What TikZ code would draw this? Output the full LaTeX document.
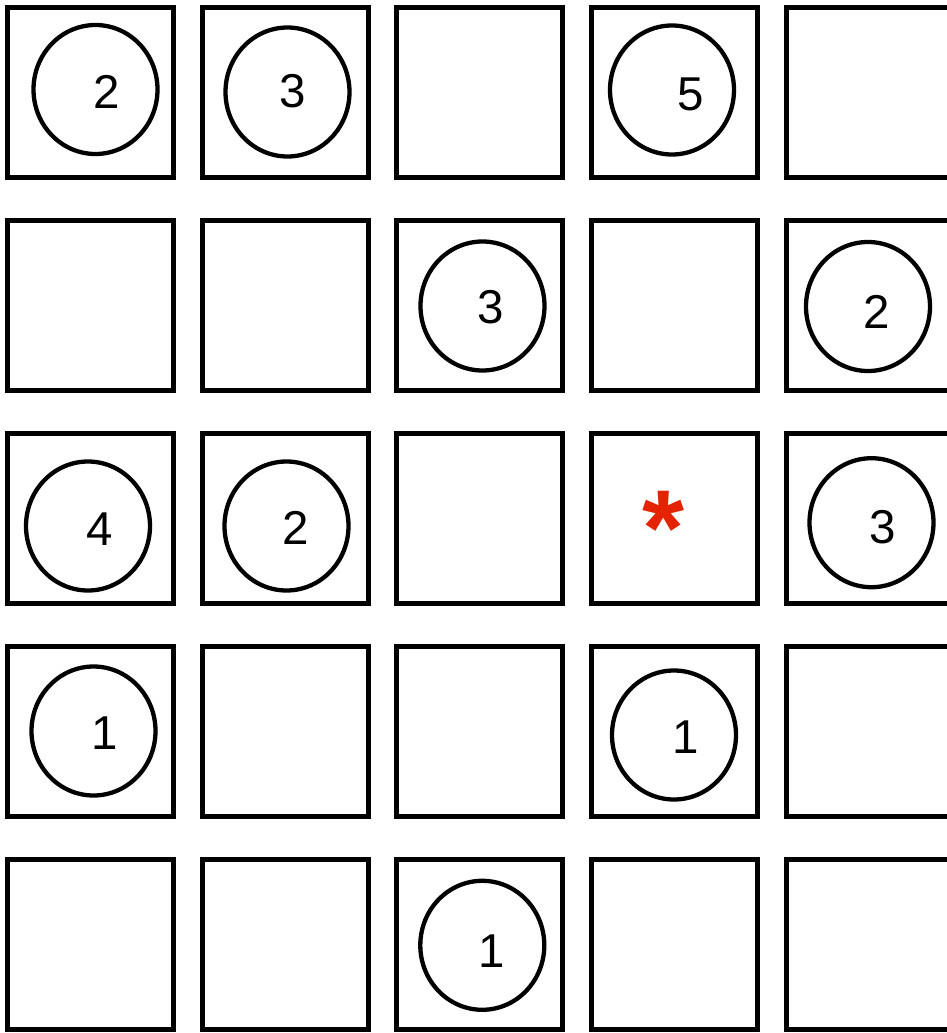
\documentclass[tikz,border=0pt]{standalone}
\usepackage{fontspec}
\setmainfont{Liberation Sans}
\usetikzlibrary{shapes.geometric}
\definecolor{astred}{RGB}{228,36,0}
\tikzset{
  cell/.style={draw=black, line width=5pt, rectangle, minimum width=166pt, minimum height=170pt, inner sep=0pt, outer sep=0pt},
  ring/.style={draw=black, line width=4.3pt, ellipse, minimum width=124pt, minimum height=129pt, inner sep=0pt, outer sep=0pt},
  num/.style={inner sep=0pt, font=\fontsize{47.5}{48}\selectfont},
  star/.style={inner sep=0pt, text=astred, font=\fontsize{108}{108}\selectfont\bfseries}
}
\begin{document}
\begin{tikzpicture}[x=1pt, y=-1pt]
\useasboundingbox (0,0) rectangle (947,1033);
\foreach \r in {1,...,5}{
  \foreach \c in {1,...,5}{
    \node[cell] (s\r\c) at ({90.5+194.67*(\c-1)}, {92.5+213*(\r-1)}) {};
  }
}
% circles
\node[ring] (c11) at (95.5,89.5) {};
\node[ring] (c12) at (287.5,92) {};
\node[ring] (c14) at (672,90) {};
\node[ring] (c23) at (482.5,306) {};
\node[ring] (c25) at (868,306.5) {};
\node[ring] (c31) at (88,526) {};
\node[ring] (c32) at (286.5,526) {};
\node[ring] (c35) at (871.5,522.7) {};
\node[ring] (c41) at (93.5,731) {};
\node[ring] (c44) at (674,735) {};
\node[ring] (c53) at (482.3,945.3) {};
% numbers
\node[num] (n11) at (107,92) {2};
\node[num] (n12) at (293,91) {3};
\node[num] (n14) at (690.5,94.5) {5};
\node[num] (n23) at (491,307.5) {3};
\node[num] (n25) at (877,311.5) {2};
\node[num] (n31) at (99.5,529) {4};
\node[num] (n32) at (295.5,528) {2};
\node[num] (n35) at (883,527) {3};
\node[num] (n41) at (105,733) {1};
\node[num] (n44) at (685.5,737.5) {1};
\node[num] (n53) at (492,951) {1};
% asterisk
\node[star, anchor=base] (ast) at (664,565) {*};
\end{tikzpicture}
\end{document}
